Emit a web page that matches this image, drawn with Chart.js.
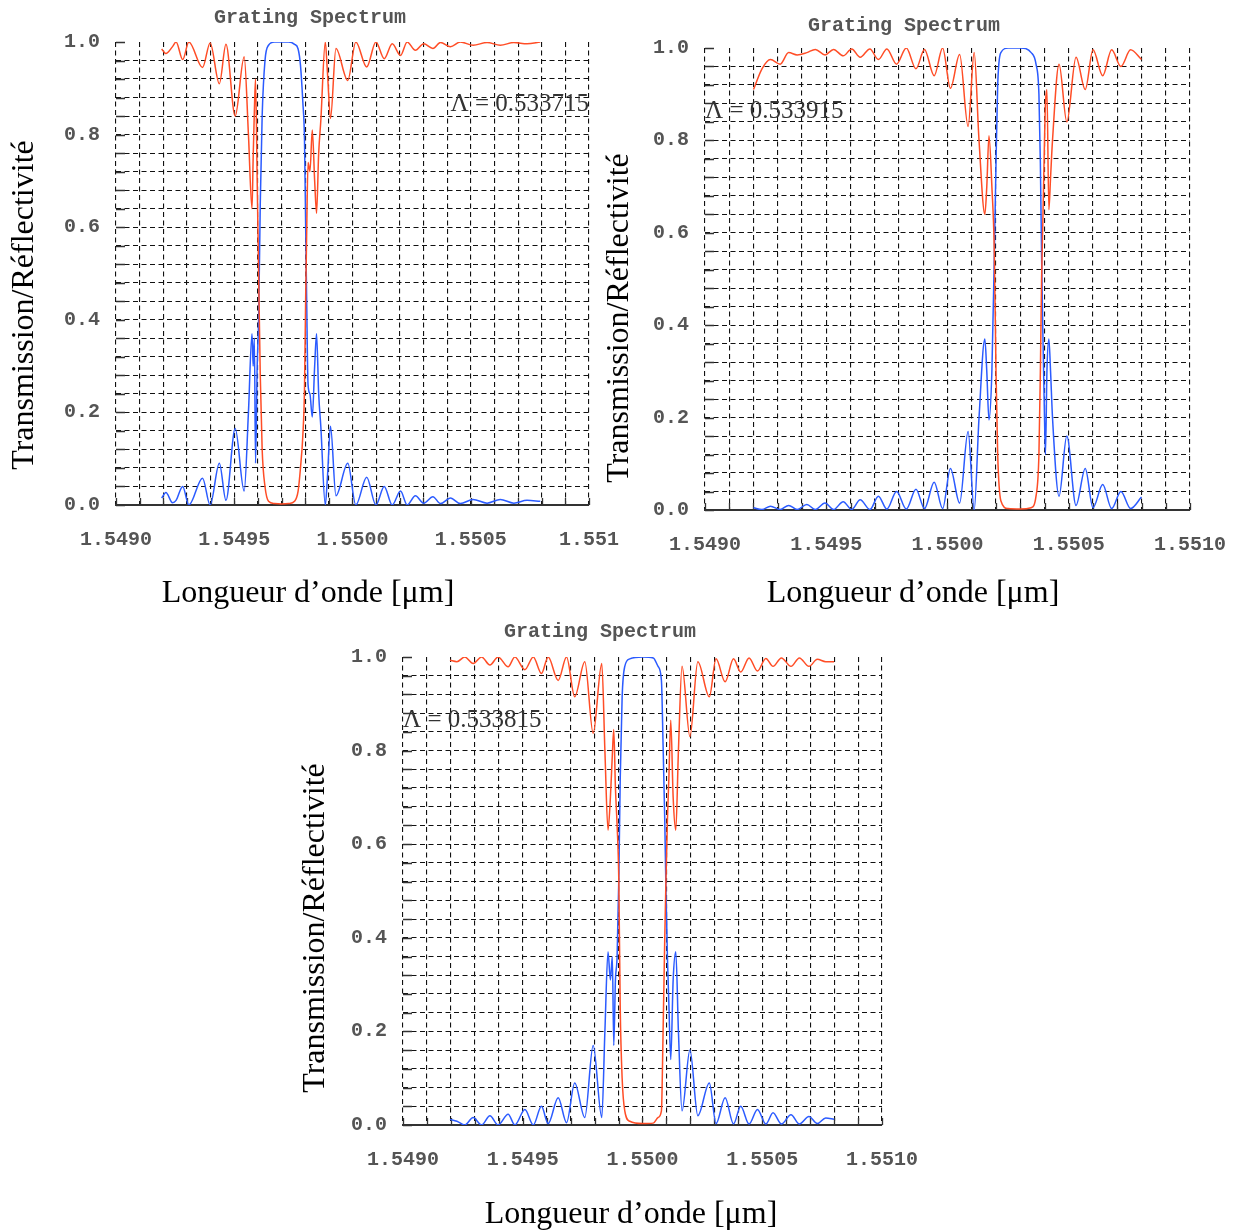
<!DOCTYPE html>
<html>
<head>
<meta charset="utf-8">
<script src="https://cdn.jsdelivr.net/npm/chart.js@4"></script>
<style>
    body { margin: 0; background: #fff; }
    #chartsContainer { position: relative; width: 1235px; height: 1232px; }
    #chartsContainer canvas { position: absolute; left: 0; top: 0; }
</style>
</head>
<body>
<div id="chartsContainer">
    <canvas id="chart-0" width="1235" height="1232"></canvas>
    <canvas id="chart-1" width="1235" height="1232"></canvas>
    <canvas id="chart-2" width="1235" height="1232"></canvas>
</div>
<script>
// wavelength in µm, transmission (blue) and reflectivity (red)
const wl1 = [1.549193, 1.549211, 1.549239, 1.549254, 1.549282, 1.549308, 1.549366, 1.549398, 1.549437, 1.549465,
    1.549504, 1.549542, 1.549560, 1.549575, 1.549580, 1.549585, 1.549590, 1.549597, 1.549603, 1.549610,
    1.549618, 1.549630, 1.549645, 1.549670, 1.549700, 1.549730, 1.549755, 1.549770, 1.549780, 1.549790,
    1.549797, 1.549802, 1.549806, 1.549812, 1.549820, 1.549830, 1.549840, 1.549848, 1.549857, 1.549866,
    1.549885, 1.549894, 1.549907, 1.549930, 1.549980, 1.550014, 1.550060, 1.550099, 1.550134, 1.550168,
    1.550203, 1.550231, 1.550266, 1.550301, 1.550340, 1.550372, 1.550414, 1.550456, 1.550510, 1.550569,
    1.550625, 1.550682, 1.550738, 1.550794]
const trans1 = [0.015, 0.027, 0.005, 0.01, 0.04, 0.0, 0.058, 0.0, 0.09, 0.01,
    0.165, 0.03, 0.20, 0.37, 0.30, 0.36, 0.09, 0.30, 0.40, 0.65,
    0.84, 0.96, 0.993, 1.0, 1.0, 1.0, 0.995, 0.985, 0.95, 0.87,
    0.79, 0.60, 0.45, 0.26, 0.24, 0.19, 0.30, 0.37, 0.24, 0.17,
    0.0, 0.06, 0.17, 0.02, 0.09, 0.0, 0.06, 0.0, 0.04, 0.0,
    0.03, 0.0, 0.02, 0.004, 0.018, 0.003, 0.015, 0.003, 0.012, 0.004,
    0.012, 0.004, 0.01, 0.008]
const refl1 = [0.985, 0.975, 0.99, 1.0, 0.962, 1.0, 0.945, 0.998, 0.91, 0.995,
    0.84, 0.968, 0.80, 0.64, 0.75, 0.85, 0.92, 0.70, 0.50, 0.28,
    0.12, 0.04, 0.008, 0.003, 0.002, 0.003, 0.008, 0.03, 0.08, 0.15,
    0.25, 0.45, 0.58, 0.74, 0.72, 0.81, 0.70, 0.63, 0.76, 0.83,
    1.0, 0.935, 0.835, 0.986, 0.917, 1.0, 0.946, 1.0, 0.964, 0.996,
    0.971, 1.0, 0.982, 0.996, 0.986, 0.999, 0.99, 1.0, 0.993, 0.999,
    0.993, 0.999, 0.996, 1.0]

const wl2 = [1.549200, 1.549235, 1.549270, 1.549310, 1.549345, 1.549380, 1.549420, 1.549455, 1.549495, 1.549530,
    1.549570, 1.549605, 1.549640, 1.549680, 1.549715, 1.549750, 1.549790, 1.549830, 1.549870, 1.549905,
    1.549945, 1.549980, 1.550012, 1.550050, 1.550085, 1.550110, 1.550130, 1.550154, 1.550162, 1.550171,
    1.550183, 1.550193, 1.550200, 1.550207, 1.550220, 1.550250, 1.550300, 1.550345, 1.550365, 1.550377,
    1.550383, 1.550388, 1.550393, 1.550400, 1.550404, 1.550410, 1.550418, 1.550425, 1.550433, 1.550460,
    1.550492, 1.550530, 1.550568, 1.550600, 1.550640, 1.550677, 1.550715, 1.550755, 1.550800]
const trans2 = [0.005, 0.001, 0.008, 0.001, 0.01, 0.001, 0.012, 0.001, 0.015, 0.001,
    0.018, 0.001, 0.022, 0.001, 0.03, 0.002, 0.04, 0.002, 0.045, 0.003,
    0.06, 0.003, 0.09, 0.015, 0.17, 0.0, 0.2, 0.37, 0.3, 0.195,
    0.3, 0.55, 0.75, 0.92, 0.99, 1.0, 1.0, 0.99, 0.965, 0.9,
    0.75, 0.55, 0.39, 0.2, 0.12, 0.3, 0.37, 0.3, 0.2, 0.03,
    0.16, 0.01, 0.09, 0.005, 0.055, 0.003, 0.04, 0.003, 0.028]
const refl2 = [0.91, 0.955, 0.975, 0.965, 0.99, 0.985, 0.99, 0.997, 0.985, 0.997,
    0.983, 0.998, 0.98, 0.998, 0.975, 0.998, 0.965, 1.0, 0.955, 0.997,
    0.94, 1.0, 0.913, 0.986, 0.83, 0.99, 0.8, 0.64, 0.7, 0.81,
    0.7, 0.56, 0.3, 0.12, 0.02, 0.003, 0.002, 0.005, 0.03, 0.12,
    0.3, 0.5, 0.62, 0.8, 0.88, 0.91, 0.65, 0.72, 0.8, 0.965,
    0.84, 0.98, 0.91, 0.996, 0.94, 0.996, 0.96, 0.996, 0.975]

const wl3 = [1.549196, 1.549225, 1.549258, 1.549293, 1.549328, 1.549363, 1.549397, 1.549439, 1.549467, 1.549509,
    1.549544, 1.549578, 1.549606, 1.549648, 1.549683, 1.549717, 1.549759, 1.549794, 1.549830, 1.549843,
    1.549856, 1.549866, 1.549874, 1.549880, 1.549887, 1.549894, 1.549901, 1.549907, 1.549915, 1.549926,
    1.549947, 1.550000, 1.550045, 1.550065, 1.550079, 1.550086, 1.550093, 1.550098, 1.550104, 1.550110,
    1.550118, 1.550128, 1.550139, 1.550150, 1.550165, 1.550198, 1.550231, 1.550279, 1.550307, 1.550345,
    1.550380, 1.550410, 1.550445, 1.550480, 1.550515, 1.550545, 1.550580, 1.550620, 1.550655, 1.550695,
    1.550730, 1.550765, 1.550800]
const trans3 = [0.012, 0.008, 0.0, 0.016, 0.0, 0.02, 0.0, 0.023, 0.0, 0.033,
    0.0, 0.04, 0.003, 0.058, 0.005, 0.09, 0.016, 0.17, 0.016, 0.2,
    0.37, 0.31, 0.36, 0.17, 0.31, 0.36, 0.525, 0.74, 0.915, 0.98,
    0.996, 1.0, 0.998, 0.98, 0.95, 0.81, 0.65, 0.5, 0.36, 0.26,
    0.14, 0.31, 0.37, 0.2, 0.03, 0.16, 0.02, 0.09, 0.003, 0.058,
    0.002, 0.04, 0.002, 0.033, 0.002, 0.026, 0.002, 0.022, 0.002, 0.018,
    0.003, 0.015, 0.012]
const refl3 = [0.993, 0.99, 1.0, 0.986, 1.0, 0.983, 1.0, 0.979, 1.0, 0.973,
    1.0, 0.965, 1.0, 0.95, 1.0, 0.915, 0.99, 0.837, 0.986, 0.8,
    0.63, 0.7, 0.79, 0.845, 0.72, 0.64, 0.525, 0.25, 0.1, 0.03,
    0.008, 0.003, 0.004, 0.016, 0.03, 0.2, 0.4, 0.525, 0.65, 0.74,
    0.865, 0.7, 0.63, 0.8, 0.98, 0.83, 0.99, 0.915, 0.996, 0.947,
    0.996, 0.968, 0.998, 0.97, 0.997, 0.98, 0.998, 0.98, 0.998, 0.98,
    0.995, 0.99, 0.99]

const periods = ['0.533715', '0.533915', '0.533815']
const xTickLabelsA = ['1.5490', '1.5495', '1.5500', '1.5505', '1.551']
const xTickLabelsB = ['1.5490', '1.5495', '1.5500', '1.5505', '1.5510']
const yTickLabels = ['0.0', '0.2', '0.4', '0.6', '0.8', '1.0']

const X_MIN = 1.549
const X_MAX = 1.551
const W = 1235
const H = 1232
const Y_AXIS_W = 60
const X_AXIS_H = 50

// plot boxes on the page and where the loose texts sit
const layouts = [
    { area: { left: 116, top: 42, right: 589, bottom: 505 }, title: [310, 18], xTitle: [308, 594], yTitle: [25, 305],
      lambda: { x: 1.551, y: 0.865, align: 'right' } },
    { area: { left: 705, top: 48, right: 1190, bottom: 510 }, title: [904, 26], xTitle: [913, 594], yTitle: [620, 318],
      lambda: { x: 1.549, y: 0.862, align: 'left' } },
    { area: { left: 403, top: 657, right: 882, bottom: 1125 }, title: [600, 632], xTitle: [631, 1215], yTitle: [316, 928],
      lambda: { x: 1.549, y: 0.865, align: 'left' } },
]

const monoFont = { family: 'Liberation Mono', size: 20, weight: 'bold' }

const paperPlugin = {
    id: 'paper',
    beforeDatasetsDraw(chart) {
        const ctx = chart.ctx
        const a = chart.chartArea
        const xs = chart.scales.x
        const ys = chart.scales.y
        ctx.save()
        ctx.strokeStyle = '#333'
        ctx.lineWidth = 1.3
        ctx.beginPath()
        xs.ticks.forEach(t => {
            const px = Math.round(xs.getPixelForValue(t.value)) + 0.5
            ctx.moveTo(px, a.bottom)
            ctx.lineTo(px, a.bottom - 7)
        })
        ys.ticks.forEach(t => {
            const py = Math.round(ys.getPixelForValue(t.value)) + 0.5
            ctx.moveTo(a.left, py)
            ctx.lineTo(a.left + 9, py)
        })
        ctx.stroke()
        ctx.restore()
    },
    afterDraw(chart, args, opts) {
        const ctx = chart.ctx
        ctx.save()
        ctx.textBaseline = 'middle'
        ctx.textAlign = 'center'

        ctx.fillStyle = '#555'
        ctx.font = 'bold 20px "Liberation Mono"'
        ctx.fillText('Grating Spectrum', opts.title[0], opts.title[1])

        ctx.fillStyle = '#000'
        ctx.font = '32px "Liberation Serif"'
        ctx.fillText('Longueur d\u2019onde [\u03bcm]', opts.xTitle[0], opts.xTitle[1])
        ctx.save()
        ctx.translate(opts.yTitle[0], opts.yTitle[1])
        ctx.rotate(-Math.PI / 2)
        ctx.fillText('Transmission/R\u00e9flectivit\u00e9', 0, 0)
        ctx.restore()

        const lx = chart.scales.x.getPixelForValue(opts.lambda.x)
        const ly = chart.scales.y.getPixelForValue(opts.lambda.y)
        ctx.fillStyle = '#333'
        ctx.font = '25px "Liberation Serif"'
        ctx.textAlign = opts.lambda.align
        ctx.fillText('\u039b = ' + opts.period, lx, ly)
        ctx.restore()
    }
}

function toPoints(xs, ys) {
    return xs.map((x, i) => ({ x: x, y: ys[i] }))
}

function generateChart(index, wl, trans, refl, xLabels) {
    const lay = layouts[index]
    const canvas = document.getElementById(`chart-${index}`)
    new Chart(canvas.getContext('2d'), {
        type: 'line',
        data: {
            datasets: [
                { label: 'R', data: toPoints(wl, refl), borderColor: '#ff4d26', borderWidth: 1.5, pointRadius: 0, cubicInterpolationMode: 'monotone' },
                { label: 'T', data: toPoints(wl, trans), borderColor: '#2b5bff', borderWidth: 1.5, pointRadius: 0, cubicInterpolationMode: 'monotone' },
            ]
        },
        options: {
            responsive: false,
            animation: false,
            events: [],
            layout: {
                padding: {
                    left: lay.area.left - Y_AXIS_W,
                    top: lay.area.top,
                    right: W - lay.area.right,
                    bottom: H - lay.area.bottom - X_AXIS_H,
                }
            },
            plugins: {
                legend: { display: false },
                tooltip: { enabled: false },
                paper: { title: lay.title, xTitle: lay.xTitle, yTitle: lay.yTitle, lambda: lay.lambda, period: periods[index] }
            },
            scales: {
                x: {
                    type: 'linear',
                    min: X_MIN,
                    max: X_MAX,
                    afterFit(scale) { scale.height = X_AXIS_H },
                    border: { display: true, color: '#333', width: 2, dash: [5, 3.5] },
                    grid: { color: '#111', lineWidth: 1.1, drawTicks: true, tickLength: 19, tickColor: 'rgba(0,0,0,0)' },
                    ticks: {
                        stepSize: 0.0001,
                        autoSkip: false,
                        maxRotation: 0,
                        padding: 4,
                        color: '#555',
                        font: monoFont,
                        callback(value) {
                            const k = Math.round((value - X_MIN) / 0.0001)
                            return k % 5 === 0 ? xLabels[k / 5] : ''
                        }
                    }
                },
                y: {
                    min: 0,
                    max: 1,
                    afterFit(scale) { scale.width = Y_AXIS_W },
                    border: { display: false, dash: [5, 3.5] },
                    grid: {
                        lineWidth: 1.1,
                        drawTicks: false,
                        color(c) {
                            const k = Math.round(c.tick.value / 0.04)
                            return (k === 0 || k === 25) ? 'rgba(0,0,0,0)' : '#111'
                        }
                    },
                    ticks: {
                        stepSize: 0.04,
                        autoSkip: false,
                        padding: 16,
                        color: '#555',
                        font: monoFont,
                        callback(value) {
                            const k = Math.round(value / 0.04)
                            return k % 5 === 0 ? yTickLabels[k / 5] : ''
                        }
                    }
                }
            }
        },
        plugins: [paperPlugin]
    })
}

generateChart(0, wl1, trans1, refl1, xTickLabelsA)
generateChart(1, wl2, trans2, refl2, xTickLabelsB)
generateChart(2, wl3, trans3, refl3, xTickLabelsB)
</script>
</body>
</html>
